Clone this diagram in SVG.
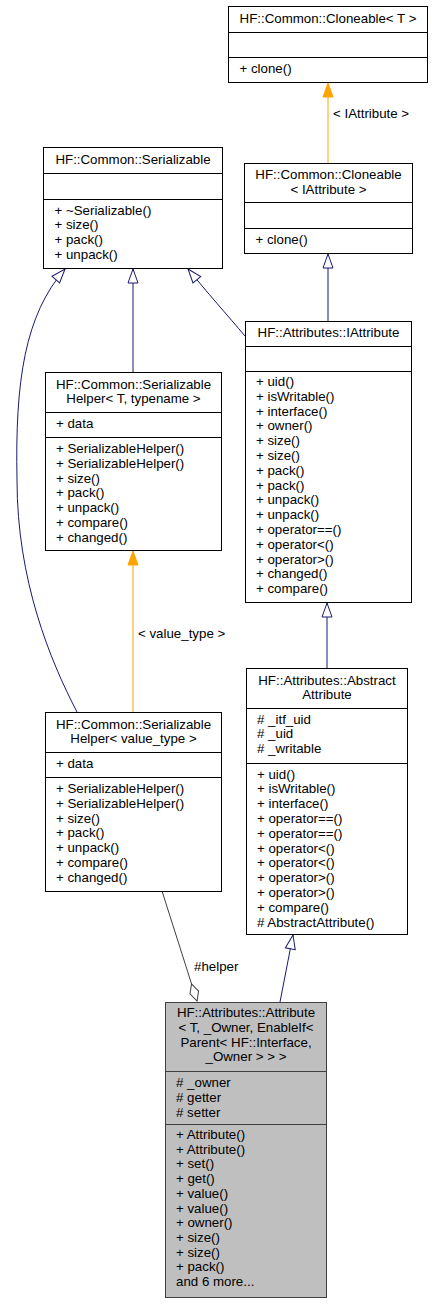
<svg xmlns="http://www.w3.org/2000/svg" width="432" height="1304" viewBox="0 0 432 1304">
<style>
.t{font-family:"Liberation Sans",Arial,Helvetica,sans-serif;font-size:13.3px;fill:#000}
.c{text-anchor:middle}
.box{fill:#fff;stroke:#000;stroke-width:1}
.cur{fill:#bfbfbf;stroke:#404040;stroke-width:1}
.sep{stroke:#000;stroke-width:1}
.sepc{stroke:#404040;stroke-width:1}
.inh{fill:none;stroke:#191970;stroke-width:1}
.tpl{fill:none;stroke:#ffa500;stroke-width:1}
.use{fill:none;stroke:#404040;stroke-width:1}
</style>
<defs>
<marker id="aInh" markerUnits="userSpaceOnUse" markerWidth="16" markerHeight="12" viewBox="-1 -1 16 12" refX="14" refY="5" orient="auto">
<path d="M0,0 L14,5 L0,10 Z" fill="#fff" stroke="#191970" stroke-width="1"/>
</marker>
<marker id="aTpl" markerUnits="userSpaceOnUse" markerWidth="16" markerHeight="12" viewBox="-1 -1 16 12" refX="14" refY="5" orient="auto">
<path d="M0,0 L14,5 L0,10 Z" fill="#ffa500" stroke="#ffa500" stroke-width="1"/>
</marker>
<marker id="aUse" markerUnits="userSpaceOnUse" markerWidth="20" markerHeight="12" viewBox="-1 -1 20 12" refX="18" refY="5" orient="auto">
<path d="M0,5 L9,0.5 L18,5 L9,9.5 Z" fill="#fff" stroke="#404040" stroke-width="1"/>
</marker>
</defs>

<g id="edges">
<path class="tpl" d="M328,163 L328,83" marker-end="url(#aTpl)"/>
<text class="t" x="333" y="118">&lt; IAttribute &gt;</text>
<path class="inh" d="M328,321 L328,254" marker-end="url(#aInh)"/>
<path class="inh" d="M245,336 C228,316 206,291 188,269" marker-end="url(#aInh)"/>
<path class="inh" d="M133,372 L133,269" marker-end="url(#aInh)"/>
<path class="inh" d="M77,712 C50,660 17,580 17,480 C15,380 25,315 65,269" marker-end="url(#aInh)"/>
<path class="tpl" d="M133,712 L133,551" marker-end="url(#aTpl)"/>
<text class="t" x="138" y="638">&lt; value_type &gt;</text>
<path class="inh" d="M327,668 L327,603" marker-end="url(#aInh)"/>
<path class="inh" d="M280,1002 L293,935" marker-end="url(#aInh)"/>
<path class="use" d="M162,891 L197,1001" marker-end="url(#aUse)"/>
<text class="t" x="194" y="971">#helper</text>
</g>

<g id="cloneableT">
<rect class="box" x="228.5" y="6.5" width="199" height="76"/>
<line class="sep" x1="228.5" y1="32.5" x2="427.5" y2="32.5"/>
<line class="sep" x1="228.5" y1="57.5" x2="427.5" y2="57.5"/>
<text class="t c" x="328" y="22.5">HF::Common::Cloneable&lt; T &gt;</text>
<text class="t" x="239.5" y="73">+ clone()</text>
</g>

<g id="cloneableIAttribute">
<rect class="box" x="244.5" y="163.5" width="168" height="90"/>
<line class="sep" x1="244.5" y1="202.5" x2="412.5" y2="202.5"/>
<line class="sep" x1="244.5" y1="228.5" x2="412.5" y2="228.5"/>
<text class="t c" x="328.5" y="179">HF::Common::Cloneable</text>
<text class="t c" x="328.5" y="193.5">&lt; IAttribute &gt;</text>
<text class="t" x="255.5" y="244">+ clone()</text>
</g>

<g id="serializable">
<rect class="box" x="43.5" y="147.5" width="179" height="121"/>
<line class="sep" x1="43.5" y1="173.5" x2="222.5" y2="173.5"/>
<line class="sep" x1="43.5" y1="199.5" x2="222.5" y2="199.5"/>
<text class="t c" x="133" y="163.5">HF::Common::Serializable</text>
<text class="t" x="54.5" y="214.5">+ ~Serializable()</text>
<text class="t" x="54.5" y="229.3">+ size()</text>
<text class="t" x="54.5" y="244.1">+ pack()</text>
<text class="t" x="54.5" y="258.9">+ unpack()</text>
</g>

<g id="serializableHelperT">
<rect class="box" x="45.5" y="372.5" width="176" height="178"/>
<line class="sep" x1="45.5" y1="412.5" x2="221.5" y2="412.5"/>
<line class="sep" x1="45.5" y1="437.5" x2="221.5" y2="437.5"/>
<text class="t c" x="133.5" y="388.5">HF::Common::Serializable</text>
<text class="t c" x="133.5" y="403.2">Helper&lt; T, typename &gt;</text>
<text class="t" x="56" y="428">+ data</text>
<text class="t" x="56" y="453">+ SerializableHelper()</text>
<text class="t" x="56" y="467.8">+ SerializableHelper()</text>
<text class="t" x="56" y="482.6">+ size()</text>
<text class="t" x="56" y="497.4">+ pack()</text>
<text class="t" x="56" y="512.2">+ unpack()</text>
<text class="t" x="56" y="527">+ compare()</text>
<text class="t" x="56" y="541.8">+ changed()</text>
</g>

<g id="iattribute">
<rect class="box" x="245.5" y="321.5" width="166" height="281"/>
<line class="sep" x1="245.5" y1="346.5" x2="411.5" y2="346.5"/>
<line class="sep" x1="245.5" y1="371.5" x2="411.5" y2="371.5"/>
<text class="t c" x="328.5" y="337">HF::Attributes::IAttribute</text>
<text class="t" x="256" y="386">+ uid()</text>
<text class="t" x="256" y="400.8">+ isWritable()</text>
<text class="t" x="256" y="415.6">+ interface()</text>
<text class="t" x="256" y="430.4">+ owner()</text>
<text class="t" x="256" y="445.2">+ size()</text>
<text class="t" x="256" y="460">+ size()</text>
<text class="t" x="256" y="474.8">+ pack()</text>
<text class="t" x="256" y="489.6">+ pack()</text>
<text class="t" x="256" y="504.4">+ unpack()</text>
<text class="t" x="256" y="519.2">+ unpack()</text>
<text class="t" x="256" y="534">+ operator==()</text>
<text class="t" x="256" y="548.8">+ operator&lt;()</text>
<text class="t" x="256" y="563.6">+ operator&gt;()</text>
<text class="t" x="256" y="578.4">+ changed()</text>
<text class="t" x="256" y="593.2">+ compare()</text>
</g>

<g id="serializableHelperValueType">
<rect class="box" x="45.5" y="712.5" width="176" height="179"/>
<line class="sep" x1="45.5" y1="752.5" x2="221.5" y2="752.5"/>
<line class="sep" x1="45.5" y1="777.5" x2="221.5" y2="777.5"/>
<text class="t c" x="133.5" y="728.5">HF::Common::Serializable</text>
<text class="t c" x="133.5" y="743.3">Helper&lt; value_type &gt;</text>
<text class="t" x="56" y="767.5">+ data</text>
<text class="t" x="56" y="793">+ SerializableHelper()</text>
<text class="t" x="56" y="807.8">+ SerializableHelper()</text>
<text class="t" x="56" y="822.6">+ size()</text>
<text class="t" x="56" y="837.4">+ pack()</text>
<text class="t" x="56" y="852.2">+ unpack()</text>
<text class="t" x="56" y="867">+ compare()</text>
<text class="t" x="56" y="881.8">+ changed()</text>
</g>

<g id="abstractAttribute">
<rect class="box" x="246.5" y="668.5" width="161" height="266"/>
<line class="sep" x1="246.5" y1="708.5" x2="407.5" y2="708.5"/>
<line class="sep" x1="246.5" y1="763.5" x2="407.5" y2="763.5"/>
<text class="t c" x="327" y="684.5">HF::Attributes::Abstract</text>
<text class="t c" x="327" y="699.3">Attribute</text>
<text class="t" x="257" y="723.5"># _itf_uid</text>
<text class="t" x="257" y="738.3"># _uid</text>
<text class="t" x="257" y="753.1"># _writable</text>
<text class="t" x="257" y="778.5">+ uid()</text>
<text class="t" x="257" y="793.3">+ isWritable()</text>
<text class="t" x="257" y="808.1">+ interface()</text>
<text class="t" x="257" y="822.9">+ operator==()</text>
<text class="t" x="257" y="837.7">+ operator==()</text>
<text class="t" x="257" y="852.5">+ operator&lt;()</text>
<text class="t" x="257" y="867.3">+ operator&lt;()</text>
<text class="t" x="257" y="882.1">+ operator&gt;()</text>
<text class="t" x="257" y="896.9">+ operator&gt;()</text>
<text class="t" x="257" y="911.7">+ compare()</text>
<text class="t" x="257" y="926.5"># AbstractAttribute()</text>
</g>

<g id="attribute">
<rect class="cur" x="165.5" y="1002.5" width="161" height="295"/>
<line class="sepc" x1="165.5" y1="1071.5" x2="326.5" y2="1071.5"/>
<line class="sepc" x1="165.5" y1="1124.5" x2="326.5" y2="1124.5"/>
<text class="t c" x="246" y="1017">HF::Attributes::Attribute</text>
<text class="t c" x="246" y="1031.8">&lt; T, _Owner, EnableIf&lt;</text>
<text class="t c" x="246" y="1046.6">Parent&lt; HF::Interface,</text>
<text class="t c" x="246" y="1061.4">_Owner &gt; &gt; &gt;</text>
<text class="t" x="176" y="1087"># _owner</text>
<text class="t" x="176" y="1101.8"># getter</text>
<text class="t" x="176" y="1116.6"># setter</text>
<text class="t" x="176" y="1139">+ Attribute()</text>
<text class="t" x="176" y="1153.7">+ Attribute()</text>
<text class="t" x="176" y="1168.4">+ set()</text>
<text class="t" x="176" y="1183.1">+ get()</text>
<text class="t" x="176" y="1197.8">+ value()</text>
<text class="t" x="176" y="1212.5">+ value()</text>
<text class="t" x="176" y="1227.2">+ owner()</text>
<text class="t" x="176" y="1241.9">+ size()</text>
<text class="t" x="176" y="1256.6">+ size()</text>
<text class="t" x="176" y="1271.3">+ pack()</text>
<text class="t" x="176" y="1286">and 6 more...</text>
</g>
</svg>
